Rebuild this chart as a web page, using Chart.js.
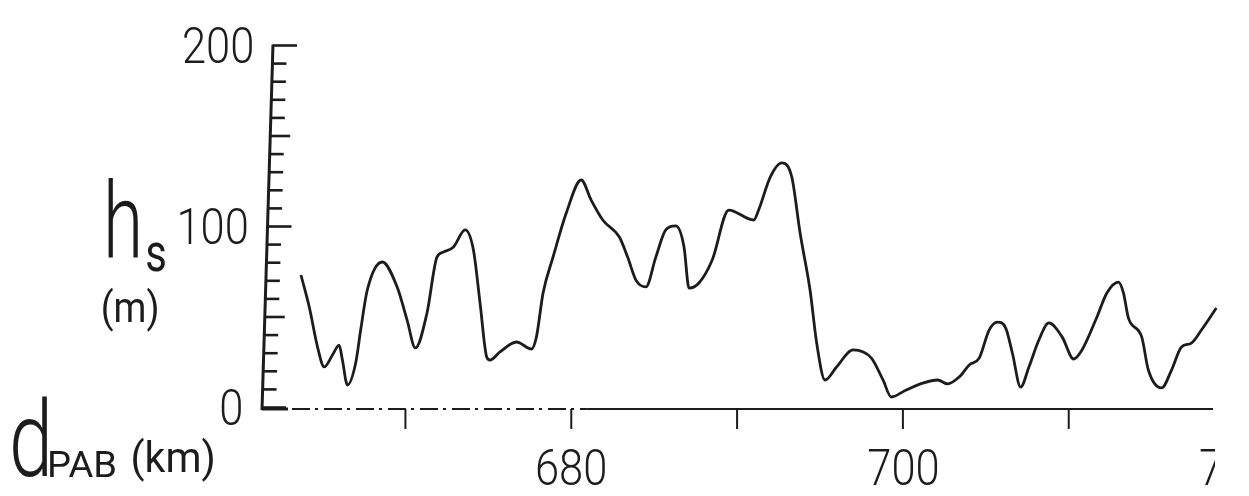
<!DOCTYPE html>
<html>
<head>
<meta charset="utf-8">
<script src="https://cdn.jsdelivr.net/npm/chart.js@4.4.1/dist/chart.umd.min.js"></script>
<style>
    html, body { margin: 0; padding: 0; background: #fff; }
    #wrap { width: 1249px; height: 496px; }
</style>
</head>
<body>
<div id="wrap"><canvas id="chartProfile" width="1249" height="496"></canvas></div>
<script>
/**
 * Distance along the path (km)
 */
const distanceKm = [
    663.7, 664.2, 664.7, 665.1, 665.6, 666.0, 666.2, 666.5, 667.0, 667.3,
    667.7, 668.6, 669.5, 670.1, 670.6, 671.3, 671.9, 672.3, 672.9, 673.6,
    674.1, 674.5, 674.9, 675.1, 675.7, 676.7, 677.6, 677.9, 678.3, 678.9,
    679.7, 680.6, 681.2, 681.9, 682.9, 683.4, 683.9, 684.5, 685.1, 685.7,
    686.3, 686.8, 687.1, 687.7, 688.5, 689.5, 691.0, 691.3, 692.0, 692.7,
    693.3, 693.8, 694.4, 694.8, 695.3, 696.0, 697.0, 698.1, 698.8, 699.3,
    700.2, 701.2, 702.1, 702.7, 703.4, 704.0, 704.6, 705.2, 705.7, 706.2,
    706.6, 707.1, 707.6, 708.2, 708.8, 709.6, 710.3, 710.8, 711.7, 712.3,
    713.0, 713.3, 713.6, 714.4, 714.8, 715.6, 716.2, 716.8, 717.4, 718.0,
    718.9
];

/**
 * Height h_s (m)
 */
const heightM = [
    73.2, 55.5, 33.4, 22.4, 29.0, 34.5, 26.2, 12.4, 24.6, 42.8,
    64.9, 80.4, 66.6, 48.3, 32.9, 52.2, 83.1, 85.9, 88.7, 98.1,
    87.0, 57.7, 27.9, 26.2, 30.7, 36.2, 32.3, 39.0, 63.3, 83.1,
    107.5, 125.7, 114.6, 103.6, 94.2, 83.1, 70.4, 66.6, 83.1, 98.1,
    100.3, 88.7, 66.0, 68.8, 81.5, 109.1, 103.6, 109.1, 127.3, 135.1,
    127.3, 96.4, 64.9, 35.6, 15.2, 22.4, 31.8, 27.3, 15.2, 5.8,
    9.7, 13.5, 15.2, 13.0, 16.9, 23.5, 27.3, 42.8, 47.2, 43.9,
    30.1, 11.3, 22.4, 37.3, 46.7, 39.0, 26.8, 31.8, 50.0, 63.3,
    69.3, 63.3, 49.4, 39.0, 20.7, 10.8, 20.7, 33.4, 35.6, 42.8,
    55.0
];

/**
 * Ticks
 */
const yLabelValues = [0, 100, 200];
const yTickStep = 10;
const xTickValues = [670, 680, 690, 700, 710];
const xLabelValues = [680, 700, 720];

/**
 * Ink and type
 */
const ink = '#1c1c1c';
const family = 'Roboto, "Open Sans", sans-serif';

/**
 * Fit a text's ink box into a rectangle
 */
function fitBox(ctx, text, weight, left, top, right, bottom) {
    ctx.save();
    ctx.font = weight + ' 100px ' + family;
    ctx.textAlign = 'left';
    ctx.textBaseline = 'alphabetic';
    const m = ctx.measureText(text);
    const bw = m.actualBoundingBoxLeft + m.actualBoundingBoxRight;
    const bh = m.actualBoundingBoxAscent + m.actualBoundingBoxDescent;
    ctx.translate(left, top);
    ctx.scale((right - left) / bw, (bottom - top) / bh);
    ctx.fillStyle = ink;
    ctx.fillText(text, m.actualBoundingBoxLeft, m.actualBoundingBoxAscent);
    ctx.restore();
}

/**
 * Tick label with fixed digit height, anchored by align
 */
function tickLabel(ctx, text, anchorX, top, digitH, align) {
    ctx.save();
    ctx.font = '300 100px ' + family;
    ctx.textAlign = 'left';
    const ref = ctx.measureText('0');
    const sy = digitH / (ref.actualBoundingBoxAscent + ref.actualBoundingBoxDescent);
    const sx = sy * 0.87;
    const m = ctx.measureText(text);
    const w = (m.actualBoundingBoxLeft + m.actualBoundingBoxRight) * sx;
    let left = anchorX - w / 2;
    if (align === 'right') left = anchorX - w;
    ctx.translate(left, top);
    ctx.scale(sx, sy);
    ctx.fillStyle = ink;
    ctx.textBaseline = 'alphabetic';
    ctx.fillText(text, m.actualBoundingBoxLeft, ref.actualBoundingBoxAscent);
    ctx.restore();
}

/**
 * Axes, ticks and titles
 */
const axesPlugin = {
    id: 'axesPlugin',
    afterDraw(chart) {
        const ctx = chart.ctx;
        const xs = chart.scales.x;
        const ys = chart.scales.y;
        const area = chart.chartArea;

        // the scanned y axis leans a little to the right
        const axX = v => area.left + v * 0.055;
        const baseY = ys.getPixelForValue(0) + 1.5;

        ctx.save();
        ctx.strokeStyle = ink;
        ctx.lineCap = 'butt';

        // y axis
        ctx.lineWidth = 3;
        ctx.beginPath();
        ctx.moveTo(axX(0), baseY + 1);
        ctx.lineTo(axX(200), ys.getPixelForValue(200) - 1);
        ctx.stroke();

        ctx.lineWidth = 2.6;
        for (let v = 0; v <= 200; v += yTickStep) {
            const len = v % 100 === 0 ? 24 : (v % 50 === 0 ? 20 : 14);
            const y = ys.getPixelForValue(v);
            ctx.beginPath();
            ctx.moveTo(axX(v), y);
            ctx.lineTo(axX(v) + len, y);
            ctx.stroke();
        }

        // x axis, broken on the left as in the scan
        ctx.lineWidth = 3;
        ctx.beginPath();
        ctx.moveTo(area.left, baseY);
        ctx.lineTo(area.left + 26, baseY);
        ctx.stroke();

        ctx.lineWidth = 2;
        ctx.setLineDash([18, 5, 3, 6]);
        ctx.beginPath();
        ctx.moveTo(area.left + 30, baseY);
        ctx.lineTo(xs.getPixelForValue(681), baseY);
        ctx.stroke();
        ctx.setLineDash([]);

        ctx.beginPath();
        ctx.moveTo(xs.getPixelForValue(681), baseY);
        ctx.lineTo(area.right, baseY);
        ctx.stroke();

        ctx.lineWidth = 2;
        xTickValues.forEach(v => {
            const x = xs.getPixelForValue(v);
            ctx.beginPath();
            ctx.moveTo(x, baseY);
            ctx.lineTo(x, baseY + 20);
            ctx.stroke();
        });
        ctx.restore();

        // y tick labels
        yLabelValues.forEach(v => {
            const y = ys.getPixelForValue(v);
            tickLabel(ctx, String(v), axX(v) - 21, y - 19, 37, 'right');
        });

        // x tick labels, the scan is cut at the right edge
        ctx.save();
        ctx.beginPath();
        ctx.rect(0, 0, area.right + 2, chart.height);
        ctx.clip();
        xLabelValues.forEach(v => {
            tickLabel(ctx, String(v), xs.getPixelForValue(v), 448, 37, 'center');
        });
        ctx.restore();

        // axis titles
        fitBox(ctx, 'h', 300, 108, 178, 138, 258);
        fitBox(ctx, 's', 400, 147, 243, 165, 272);
        fitBox(ctx, '(m)', 400, 103, 287, 157, 332);
        fitBox(ctx, 'd', 300, 13, 395, 47, 477);
        fitBox(ctx, 'PAB', 400, 50, 450, 115, 477);
        fitBox(ctx, '(km)', 400, 133, 437, 213, 482);
    }
};

/**
 * Chart
 */
new Chart(document.getElementById('chartProfile'), {
    type: 'line',
    data: {
        datasets: [{
            data: distanceKm.map((d, i) => ({ x: d, y: heightM[i] })),
            borderColor: ink,
            borderWidth: 2.8,
            pointRadius: 0,
            cubicInterpolationMode: 'monotone',
            fill: false,
            clip: false
        }]
    },
    options: {
        responsive: false,
        animation: false,
        devicePixelRatio: 1,
        layout: { padding: { left: 262, right: 36, top: 45.5, bottom: 88.5 } },
        plugins: { legend: { display: false }, tooltip: { enabled: false } },
        scales: {
            x: { type: 'linear', min: 661.35, max: 718.7, display: false },
            y: { min: 0, max: 200, display: false }
        }
    },
    plugins: [axesPlugin]
});
</script>
</body>
</html>
